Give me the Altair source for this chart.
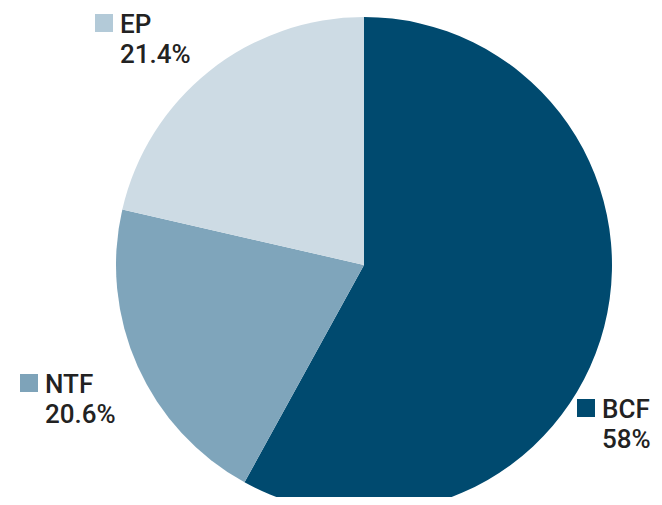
import altair as alt
import pandas as pd

categories = ["BCF", "NTF", "EP"]
values = [58.0, 20.6, 21.4]
pct_labels = ["58%", "20.6%", "21.4%"]
colors = ["#004a6f", "#7fa5bb", "#cddbe4"]
square_colors = ["#004a6f", "#7ea3b9", "#b3cad8"]

# label layout (plot coords, px)
label_x = [594, 37, 112]
label_y = [410, 385, 25]

W, H = 646, 489

pie_df = pd.DataFrame({"cat": categories, "val": values, "order": list(range(len(categories)))})
lab_df = pd.DataFrame({
    "cat": categories,
    "pct": pct_labels,
    "lx": label_x,
    "ly": label_y,
})
lab_df["sx"] = lab_df["lx"] - 16
lab_df["sy"] = lab_df["ly"] - 10
lab_df["ly2"] = lab_df["ly"] + 30

color_scale = alt.Scale(domain=categories, range=colors)

pie = alt.Chart(pie_df).mark_arc(radius=248, stroke=None).encode(
    theta=alt.Theta("val:Q", stack=True),
    order=alt.Order("order:Q"),
    color=alt.Color("cat:N", scale=color_scale, legend=None),
    x=alt.value(356),
    y=alt.value(257),
)

squares = alt.Chart(lab_df).mark_square(size=324, opacity=1).encode(
    x=alt.X("sx:Q", scale=None, axis=None),
    y=alt.Y("sy:Q", scale=None, axis=None),
    color=alt.Color("cat:N", scale=alt.Scale(domain=categories, range=square_colors), legend=None),
)

font = "Roboto"
name_text = alt.Chart(lab_df).mark_text(
    align="left", baseline="alphabetic", font=font, fontSize=26, fontWeight=500, color="#222222"
).encode(
    x=alt.X("lx:Q", scale=None, axis=None),
    y=alt.Y("ly:Q", scale=None, axis=None),
    text="cat:N",
)
pct_text = alt.Chart(lab_df).mark_text(
    align="left", baseline="alphabetic", font=font, fontSize=26, fontWeight=500, color="#222222"
).encode(
    x=alt.X("lx:Q", scale=None, axis=None),
    y=alt.Y("ly2:Q", scale=None, axis=None),
    text="pct:N",
)

chart = alt.layer(pie, squares, name_text, pct_text).properties(
    width=W, height=H,
    autosize=alt.AutoSizeParams(type="none"),
    padding=0,
).resolve_scale(color="independent").configure_view(stroke=None, clip=False)

chart.save("out.html", embed_options={"renderer": "svg", "actions": False})
